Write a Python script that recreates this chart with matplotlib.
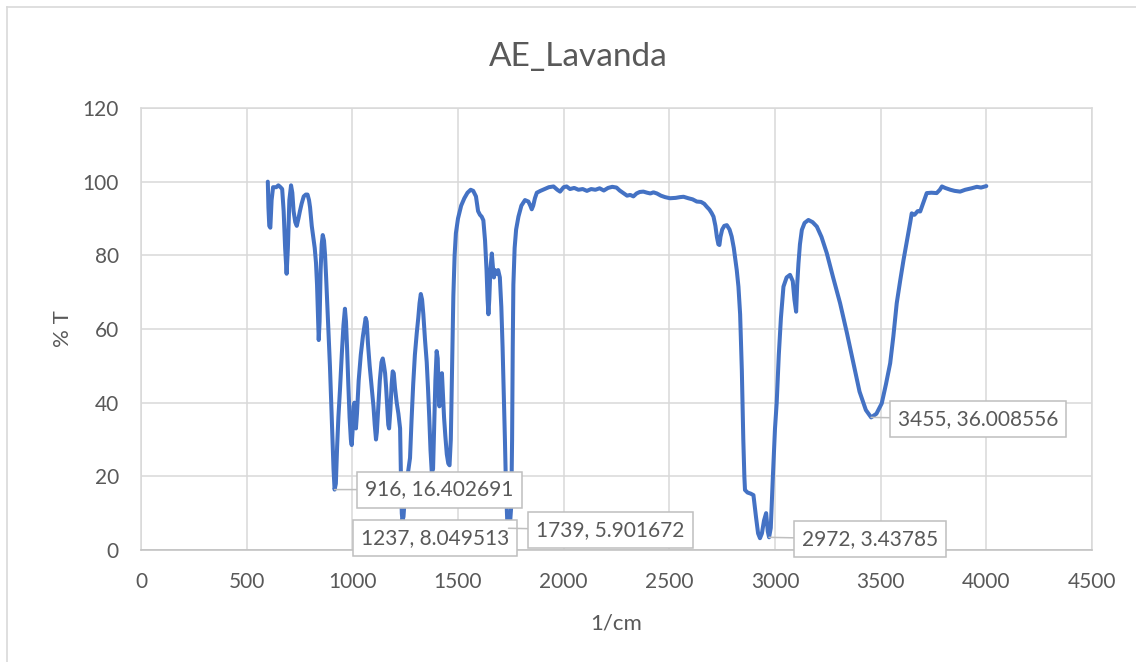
import matplotlib
matplotlib.use("Agg")
import matplotlib.pyplot as plt
from matplotlib.lines import Line2D

# --- data ---
wavenumber = [
    600, 603, 607, 612, 618, 625, 640, 650, 660, 668, 675, 682, 689, 695, 702, 710,
    716, 722, 730, 737, 745, 752, 760, 770, 780, 788, 795, 800, 808, 815, 822, 828,
    833, 838, 841, 845, 850, 855, 860, 866, 871, 876, 882, 888, 894, 900, 906, 911,
    916, 922, 928, 934, 942, 950, 958, 965, 970, 975, 981, 987, 993, 997, 1002, 1006,
    1010, 1014, 1017, 1022, 1030, 1040, 1050, 1058, 1063, 1068, 1074, 1082, 1092, 1100,
    1106, 1112, 1116, 1122, 1130, 1138, 1144, 1150, 1155, 1160, 1166, 1170, 1174, 1180,
    1186, 1191, 1196, 1202, 1210, 1218, 1226, 1230, 1234, 1237, 1242, 1248, 1256, 1266,
    1273, 1280, 1288, 1296, 1305, 1312, 1318, 1324, 1330, 1336, 1344, 1352, 1358, 1364,
    1370, 1376, 1382, 1388, 1393, 1399, 1404, 1408, 1412, 1416, 1420, 1424, 1428, 1434,
    1440, 1447, 1454, 1460, 1466, 1472, 1478, 1484, 1490, 1500, 1515, 1530, 1545, 1560,
    1572, 1585, 1595, 1604, 1612, 1620, 1628, 1635, 1640, 1644, 1648, 1653, 1660, 1665,
    1670, 1675, 1682, 1690, 1698, 1705, 1711, 1716, 1722, 1727, 1733, 1739, 1746, 1752,
    1756, 1759, 1762, 1768, 1775, 1786, 1800, 1817, 1833, 1842, 1849, 1856, 1864, 1873,
    1890, 1910, 1930, 1952, 1970, 1983, 2000, 2014, 2030, 2050, 2070, 2090, 2110, 2130,
    2150, 2170, 2190, 2210, 2230, 2250, 2265, 2280, 2300, 2315, 2330, 2345, 2360, 2377,
    2395, 2410, 2425, 2441, 2460, 2480, 2503, 2530, 2550, 2567, 2590, 2610, 2630, 2650,
    2665, 2677, 2690, 2700, 2709, 2718, 2725, 2732, 2737, 2742, 2750, 2760, 2772, 2785,
    2795, 2805, 2812, 2819, 2827, 2835, 2843, 2850, 2855, 2858, 2870, 2885, 2898, 2910,
    2920, 2929, 2938, 2948, 2958, 2966, 2972, 2980, 2990, 3000, 3008, 3018, 3028, 3040,
    3055, 3071, 3084, 3092, 3100, 3105, 3111, 3118, 3127, 3140, 3158, 3178, 3198, 3220,
    3245, 3275, 3308, 3340, 3371, 3400, 3430, 3455, 3480, 3505, 3525, 3545, 3560, 3576,
    3592, 3608, 3620, 3631, 3640, 3647, 3660, 3675, 3687, 3700, 3718, 3740, 3765, 3780,
    3790, 3805, 3830, 3850, 3876, 3900, 3930, 3955, 3975, 4000,
]
transmittance = [
    100, 93, 88, 87.5, 95, 98.5, 98.5, 99, 98.5, 98, 92, 82, 75, 82, 95, 99,
    97, 92, 89, 88, 90, 92, 94, 96, 96.5, 96.5, 95, 93, 88, 85, 82, 78,
    72, 62, 57, 62, 76, 83, 85.5, 84, 80, 74, 66, 58, 50, 40, 30, 22,
    16.4, 18, 28, 36, 44, 53, 61, 65.5, 62, 55, 45, 36, 30, 28.5, 33, 39,
    40, 36, 33, 37, 46, 53, 58, 61, 63, 62, 56, 50, 44, 39,
    34, 30, 32, 38, 46, 51, 52, 50, 48, 44, 38, 34, 33, 38,
    45, 48.5, 48, 44, 40, 37, 33, 20, 10, 8.05, 9, 14, 18, 22,
    25, 35, 45, 53, 59, 63, 67, 69.5, 68, 64, 57, 51, 44, 36,
    27, 21, 22, 35, 46, 54, 52, 44, 39, 42, 47, 48, 43, 36,
    31, 26, 23.5, 23, 30, 50, 69, 80, 86, 90, 93.5, 95.5, 97, 97.8,
    97.5, 96, 92, 91, 90.5, 89.5, 84, 76, 68, 64, 68, 76, 80.5, 77,
    74, 76, 75, 76, 74, 66, 55, 44, 30, 17, 8, 5.9, 7, 12,
    30, 55, 72, 82, 87, 90.5, 93.5, 95, 94.6, 93.5, 92.5, 93.5, 95.5, 97,
    97.5, 98, 98.5, 98.7, 97.8, 97.3, 98.5, 98.7, 98, 98.3, 97.8, 98, 97.5, 98,
    97.8, 98.2, 97.6, 98.3, 98.6, 98.4, 97.6, 97, 96.2, 96.4, 96.0, 96.8, 97.2, 97.3,
    97.0, 96.8, 97.1, 96.8, 96.2, 95.8, 95.5, 95.6, 95.8, 95.9, 95.5, 95.2, 94.6, 94.5,
    94, 93.2, 92.4, 91.5, 90.5, 88, 85, 83, 82.8, 85, 87, 88, 88.2, 87,
    85.1, 82, 79, 76, 71.5, 64, 48.9, 30, 20, 16.3, 15.6, 15.3, 14.9, 9,
    4.5, 3.2, 4.5, 8, 10, 5, 3.44, 6, 20, 33, 40, 53, 63, 71.5,
    74, 74.7, 73, 68, 64.7, 72, 77.8, 83, 86.9, 88.8, 89.6, 89, 87.8, 85,
    80.6, 74, 67, 59, 50.7, 43, 38, 36.0, 37, 39.8, 45, 50.7, 58, 67,
    73, 78.7, 82.5, 86, 89, 91.4, 91, 92, 91.9, 94, 96.9, 97, 96.9, 97.8,
    98.7, 98.3, 97.8, 97.5, 97.3, 97.8, 98.2, 98.6, 98.4, 98.8,
]

# labelled minima (x, y, text) and where the box sits, in pixels from the point
peak_x = [916, 1237, 1739, 2972, 3455]
peak_y = [16.402691, 8.049513, 5.901672, 3.43785, 36.008556]
peak_text = ["916, 16.402691", "1237, 8.049513", "1739, 5.901672",
             "2972, 3.43785", "3455, 36.008556"]
box_shift = [(105, 0), (33, -18), (102, -2), (101, -2), (107, -2)]

x_ticks = list(range(0, 4501, 500))
y_ticks = list(range(0, 121, 20))

# --- style ---
plt.rcParams["font.family"] = ["Lato", "DejaVu Sans"]
grid_col = "#d9d9d9"
text_col = "#595959"
line_col = "#4472c4"

fig = plt.figure(figsize=(11.36, 6.62), dpi=100)
ax = fig.add_axes([141 / 1136, 1 - 550 / 662, 951 / 1136, 442 / 662])

ax.plot(wavenumber, transmittance, color=line_col, lw=2.9,
        solid_joinstyle="round", solid_capstyle="round", zorder=3)

ax.set_xlim(0, 4500)
ax.set_ylim(0, 120)
ax.set_xticks(x_ticks)
ax.set_yticks(y_ticks)
ax.grid(True, color=grid_col, lw=1.1)
ax.set_axisbelow(True)
ax.tick_params(length=0, labelsize=15, colors=text_col)
ax.tick_params(axis="y", pad=16)
ax.tick_params(axis="x", pad=16)
for s in ax.spines.values():
    s.set_color(grid_col)
    s.set_linewidth(1.1)
ax.spines["bottom"].set_color("#bfbfbf")

# title sits over the whole chart, not just the plot area
fig.text(578 / 1136, 1 - 57 / 662, "AE_Lavanda", fontsize=24, color=text_col,
         ha="center", va="center")
ax.set_xlabel("1/cm", fontsize=16, color=text_col, labelpad=15)
ax.set_ylabel("% T", fontsize=16, color=text_col, labelpad=7)

# callout boxes
for px, py, t, (dx, dy) in zip(peak_x, peak_y, peak_text, box_shift):
    ax.annotate(t, xy=(px, py), xytext=(dx * 0.72, dy * 0.72),
                textcoords="offset points", ha="center", va="center",
                fontsize=15, color=text_col, zorder=5,
                bbox=dict(boxstyle="square,pad=0.38", fc="white", ec="#bfbfbf", lw=1.1),
                arrowprops=dict(arrowstyle="-", color="#bfbfbf", lw=1.1,
                                shrinkA=0, shrinkB=0))

# chart area border (only top and left reach inside the picture)
fig.add_artist(Line2D([7 / 1136, 7 / 1136], [0, 1 - 7 / 662], color=grid_col, lw=1.2))
fig.add_artist(Line2D([7 / 1136, 1], [1 - 7 / 662, 1 - 7 / 662], color=grid_col, lw=1.2))

fig.savefig("out.png", dpi=100, facecolor="white")
